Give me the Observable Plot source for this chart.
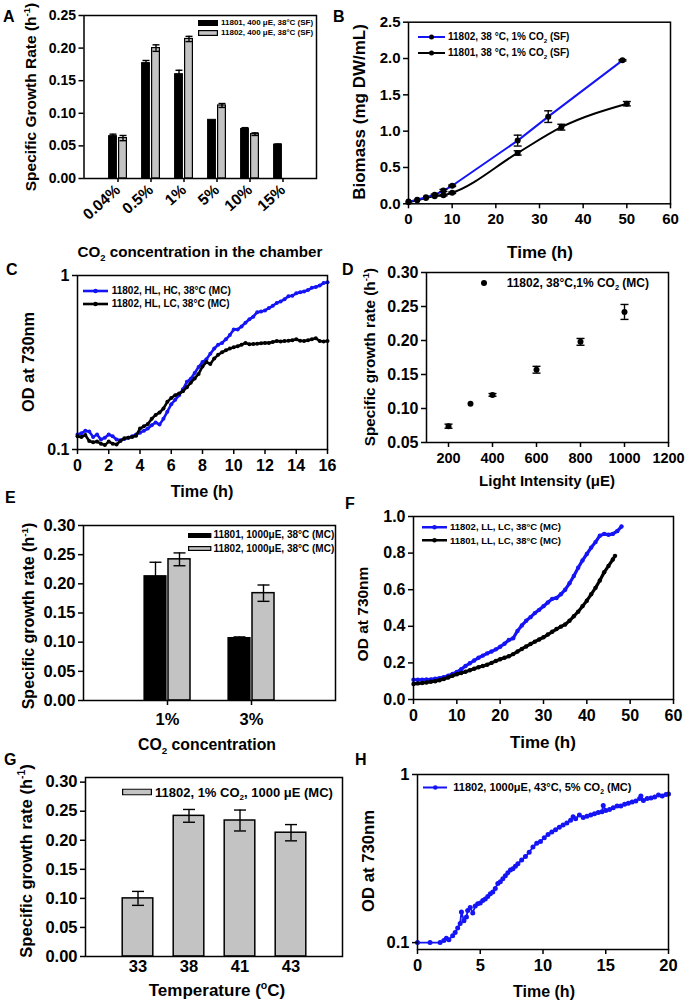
<!DOCTYPE html>
<html><head><meta charset="utf-8">
<script src="https://cdn.jsdelivr.net/npm/d3@7"></script>
<script src="https://cdn.jsdelivr.net/npm/@observablehq/plot@0.6"></script>
<style>
body{margin:0;background:#fff;}
#fig{position:relative;width:685px;height:1004px;overflow:hidden;font-family:'Liberation Sans',Arial,sans-serif;font-weight:bold;color:#000;background:#fff;}
.abs{position:absolute;white-space:nowrap;line-height:1;}
sup,sub{font-size:0.62em;line-height:0;}
</style></head><body><div id="fig"></div>
<script>
// ---------- Panel A ----------
const aCats = ["0.04%","0.5%","1%","5%","10%","15%"];
const a11801 = [0.065,0.177,0.160,0.090,0.076,0.052];
const a11801Err = [0.003,0.004,0.006,0,0.002,0.001];
const a11802 = [0.062,0.200,0.214,0.112,0.068,null];
const a11802Err = [0.004,0.005,0.004,0.003,0.002,null];
const aTicks = [0,0.05,0.10,0.15,0.20,0.25];

// ---------- Panel B ----------
const bT02 = [0,2,4,6,8,10,25,32,49];
const bV02 = [0.03,0.055,0.09,0.124,0.183,0.248,0.87,1.2,1.975];
const bE02 = [0,0,0,0.01,0.015,0.01,0.075,0.08,0.01];
const bT01 = [0,2,4,6,8,10,25,35,50];
const bV01 = [0.02,0.05,0.08,0.105,0.118,0.152,0.70,1.055,1.378];
const bE01 = [0,0,0,0,0.01,0.01,0.03,0.04,0.03];

// ---------- Panel C ----------
const cTime = [0,0.25,0.5,0.75,1,1.25,1.5,1.75,2,2.25,2.5,2.75,3,3.25,3.5,3.75,4,4.25,4.5,4.75,5,5.25,5.5,5.75,6,6.25,6.5,6.75,7,7.25,7.5,7.75,8,8.25,8.5,8.75,9,9.25,9.5,9.75,10,10.25,10.5,10.75,11,11.25,11.5,11.75,12,12.25,12.5,12.75,13,13.25,13.5,13.75,14,14.25,14.5,14.75,15,15.25,15.5,15.75,16];
const cHC = [.122,.124,.128,.127,.118,.122,.114,.117,.122,.119,.114,.113,.115,.117,.119,.122,.125,.128,.132,.138,.143,.139,.150,.165,.182,.193,.205,.222,.245,.255,.275,.298,.318,.33,.355,.38,.40,.41,.43,.455,.49,.49,.51,.535,.56,.58,.615,.62,.63,.65,.67,.695,.71,.73,.76,.765,.79,.80,.81,.825,.85,.86,.875,.905,.915];
const cLC = [.119,.118,.121,.112,.110,.111,.108,.106,.111,.108,.107,.112,.116,.117,.118,.120,.132,.136,.140,.150,.158,.163,.172,.188,.198,.205,.210,.216,.228,.242,.256,.272,.300,.318,.310,.333,.350,.362,.372,.380,.387,.392,.400,.410,.403,.404,.405,.408,.410,.410,.415,.420,.418,.420,.422,.425,.430,.422,.420,.425,.430,.436,.420,.418,.420];

// ---------- Panel D ----------
const dLight = [200,300,400,600,800,1000];
const dRate = [0.074,0.107,0.120,0.157,0.198,0.242];
const dErr = [0.003,0,0.002,0.005,0.005,0.011];

// ---------- Panel E ----------
const eCats = ["1%","3%"];
const e11801 = [0.213,0.107];
const e11801Err = [0.024,0.002];
const e11802 = [0.242,0.184];
const e11802Err = [0.011,0.014];

// ---------- Panel F ----------
const fTime02 = [0,1,2,3,4,5,6,7,8,9,10,11,12,13,14,15,16,17,18,19,20,21,22,23,24,25,26,27,28,29,30,31,32,33,34,35,36,37,38,39,40,41,42,43,44,45,46,47,48];
const fOD02 = [.108,.108,.108,.109,.110,.113,.117,.122,.130,.140,.150,.165,.183,.198,.213,.228,.240,.252,.262,.274,.288,.305,.325,.335,.375,.405,.430,.450,.472,.490,.510,.530,.550,.555,.575,.600,.635,.675,.720,.760,.795,.830,.860,.895,.905,.900,.905,.920,.945];
const fTime01 = [0,1,2,3,4,5,6,7,8,9,10,11,12,13,14,15,16,17,18,19,20,21,22,23,24,25,26,27,28,29,30,31,32,33,34,35,36,37,38,39,40,41,42,43,44,45,46,46.5];
const fOD01 = [.085,.088,.090,.093,.097,.100,.105,.112,.120,.130,.138,.145,.152,.160,.168,.176,.183,.190,.200,.210,.220,.228,.236,.248,.262,.276,.290,.303,.316,.328,.340,.355,.370,.385,.398,.410,.430,.455,.480,.510,.540,.575,.610,.650,.695,.730,.765,.785];

// ---------- Panel G ----------
const gTemp = ["33","38","41","43"];
const gRate = [0.100,0.242,0.234,0.213];
const gErr = [0.012,0.011,0.018,0.014];

// ---------- Panel H ----------
const hTime = [0,1,1.8,2.1,2.3,2.5,2.8,3.0,3.2,3.4,3.5,3.7,3.9,4.0,4.2,4.4,4.6,4.8,5.0,5.2,5.4,5.6,5.8,6.0,6.2,6.4,6.6,6.8,7.0,7.2,7.4,7.6,7.8,8.0,8.3,8.6,8.9,9.2,9.5,9.8,10.1,10.4,10.7,11.0,11.3,11.6,11.9,12.2,12.4,12.6,12.9,13.2,13.5,13.8,14.1,14.4,14.7,14.8,15.0,15.3,15.6,15.9,16.2,16.5,16.8,17.1,17.4,17.7,17.8,18.0,18.3,18.6,18.9,19.2,19.5,19.8,20.0];
const hOD = [.100,.100,.100,.103,.106,.104,.110,.115,.122,.130,.152,.135,.142,.155,.162,.150,.165,.170,.172,.178,.182,.188,.195,.200,.210,.225,.230,.240,.250,.260,.270,.275,.285,.295,.310,.325,.345,.370,.390,.400,.420,.440,.455,.470,.485,.500,.515,.535,.560,.545,.575,.555,.565,.575,.585,.595,.600,.655,.610,.620,.635,.650,.650,.665,.675,.685,.695,.720,.745,.700,.720,.725,.735,.755,.745,.760,.765];

// ---------- helpers ----------
const BLUE = "#1414f5";
const GRAY = "#c3c3c3";
const FONT = "'Liberation Sans', Arial, sans-serif";
const fig = document.getElementById("fig");
const capSym = {draw(ctx, size){ const r = Math.sqrt(size/Math.PI); ctx.moveTo(-r,0); ctx.lineTo(r,0); }};
const style = s => ({fontFamily: FONT, fontWeight: "bold", fontSize: s+"px", background: "transparent", overflow: "visible", color: "black"});
function place(el, left, top){ el.style.position="absolute"; el.style.left=left+"px"; el.style.top=top+"px"; fig.appendChild(el); }
function txt(html, cx, cy, size, rot){
  const d=document.createElement("div"); d.className="abs"; d.innerHTML=html;
  d.style.left=cx+"px"; d.style.top=cy+"px"; d.style.fontSize=size+"px";
  d.style.transform="translate(-50%,-50%)"+(rot?" rotate(-90deg)":"");
  fig.appendChild(d);
}
function letter(l, x, y){ const d=document.createElement("div"); d.className="abs"; d.textContent=l; d.style.left=x+"px"; d.style.top=y+"px"; d.style.fontSize="16px"; fig.appendChild(d); }
function swRect(w,h,fill){ return `<svg width="${w}" height="${h}" style="display:block"><rect x="0.6" y="0.6" width="${w-1.2}" height="${h-1.2}" fill="${fill}" stroke="black" stroke-width="1.2"/></svg>`; }
function swLine(w,color,dot,sw,r){ return `<svg width="${w}" height="8" style="display:block"><line x1="0" x2="${w}" y1="4" y2="4" stroke="${color}" stroke-width="${sw}"/><circle cx="${w/2}" cy="4" r="${r}" fill="${dot}"/></svg>`; }
function swDot(r){ return `<svg width="${2*r}" height="${2*r}" style="display:block"><circle cx="${r}" cy="${r}" r="${r}" fill="black"/></svg>`; }
function legend(x, cy, sw, html, size, gap){
  const d=document.createElement("div"); d.className="abs";
  d.style.left=x+"px"; d.style.top=cy+"px"; d.style.transform="translateY(-50%)";
  d.style.display="flex"; d.style.alignItems="center"; d.style.fontSize=size+"px";
  d.innerHTML = sw + `<span style="margin-left:${gap}px">${html}</span>`;
  fig.appendChild(d);
}
function errMarks(data, x, y, e, opt){
  const o = Object.assign({stroke:"black", strokeWidth:1.4}, opt.style||{});
  return [
    Plot.ruleX(data.filter(d=>d[e]>0), {x, y1: d=>d[y]-d[e], y2: d=>d[y]+d[e], dx: opt.dx||0, ...o}),
    Plot.dot(data.filter(d=>d[e]>0), {x, y: d=>d[y]+d[e], dx: opt.dx||0, symbol: capSym, r: opt.cap, ...o, fill:"none"}),
    Plot.dot(data.filter(d=>d[e]>0), {x, y: d=>d[y]-d[e], dx: opt.dx||0, symbol: capSym, r: opt.cap, ...o, fill:"none"})
  ];
}
const f2 = d3.format(".2f"), f1 = d3.format(".1f");

// ---------- A ----------
const aRows01 = aCats.map((c,i)=>({cat:c, v:a11801[i], e:a11801Err[i]}));
const aRows02 = aCats.map((c,i)=>({cat:c, v:a11802[i], e:a11802Err[i]})).filter(d=>d.v!=null);
place(Plot.plot({
  width:340, height:250, marginLeft:83.5, marginRight:24, marginTop:15, marginBottom:72,
  style: style(14),
  x:{type:"band", domain:aCats, paddingInner:0, paddingOuter:0.5},
  y:{domain:[0,0.25]},
  marks:[
    Plot.barY(aRows01, {x:"cat", y:"v", fill:"black", stroke:"black", strokeWidth:1, insetLeft:7.6, insetRight:17.6}),
    Plot.barY(aRows02, {x:"cat", y:"v", fill:GRAY, stroke:"black", strokeWidth:1.2, insetLeft:17.6, insetRight:7.6}),
    ...errMarks(aRows01, "cat", "v", "e", {dx:-5, cap:3.5}),
    ...errMarks(aRows02, "cat", "v", "e", {dx:5, cap:3.5}),
    Plot.axisY({ticks:aTicks, tickFormat:f2, tickSize:5, tickPadding:3, strokeWidth:1.5, label:null}),
    Plot.axisX({tickSize:4, tickRotate:-42, tickPadding:5, strokeWidth:1.5, fontSize:15.5, label:null}),
    Plot.frame({stroke:"black", strokeWidth:1.5})
  ]
}), 0, 0);

// ---------- B ----------
const bRows02 = bT02.map((t,i)=>({t, v:bV02[i], e:bE02[i]}));
const bRows01 = bT01.map((t,i)=>({t, v:bV01[i], e:bE01[i]}));
place(Plot.plot({
  width:345, height:250, marginLeft:68, marginRight:15, marginTop:21.7, marginBottom:46.7,
  style: style(15),
  x:{domain:[0,60]}, y:{domain:[0,2.5]},
  marks:[
    Plot.line(bRows01, {x:"t", y:"v", stroke:"black", strokeWidth:2, curve:"monotone-x"}),
    Plot.line(bRows02, {x:"t", y:"v", stroke:BLUE, strokeWidth:2}),
    ...errMarks(bRows02, "t", "v", "e", {cap:4}),
    ...errMarks(bRows01, "t", "v", "e", {cap:4}),
    Plot.dot(bRows01, {x:"t", y:"v", r:3, fill:"black"}),
    Plot.dot(bRows02, {x:"t", y:"v", r:3, fill:"black"}),
    Plot.axisY({ticks:[0,0.5,1,1.5,2,2.5], tickFormat:f1, tickSize:5, tickPadding:3, strokeWidth:1.5, label:null}),
    Plot.axisX({ticks:[0,10,20,30,40,50,60], tickSize:5, tickPadding:5, strokeWidth:1.5, label:null}),
    Plot.frame({stroke:"black", strokeWidth:1.5})
  ]
}), 340, 0);

// ---------- C ----------
const cRowsHC = cTime.map((t,i)=>({t, v:cHC[i]}));
const cRowsLC = cTime.map((t,i)=>({t, v:cLC[i]}));
place(Plot.plot({
  width:340, height:250, marginLeft:77, marginRight:13, marginTop:25, marginBottom:51,
  style: style(16),
  x:{domain:[0,16]}, y:{type:"log", domain:[0.1,1]},
  marks:[
    Plot.line(cRowsHC, {x:"t", y:"v", stroke:BLUE, strokeWidth:2.6}),
    Plot.dot(cRowsHC, {x:"t", y:"v", r:2, fill:BLUE}),
    Plot.line(cRowsLC, {x:"t", y:"v", stroke:"black", strokeWidth:2.6}),
    Plot.dot(cRowsLC, {x:"t", y:"v", r:2, fill:"black"}),
    Plot.axisY({ticks:[0.1,1], tickFormat:d3.format("~g"), tickSize:5, tickPadding:3, strokeWidth:1.5, label:null}),
    Plot.axisX({ticks:[0,2,4,6,8,10,12,14,16], tickSize:5, tickPadding:5, strokeWidth:1.5, label:null}),
    Plot.frame({stroke:"black", strokeWidth:1.5})
  ]
}), 0, 250);

// ---------- D ----------
const dRows = dLight.map((x,i)=>({x, v:dRate[i], e:dErr[i]}));
place(Plot.plot({
  width:345, height:250, marginLeft:86, marginRight:17, marginTop:22, marginBottom:58,
  style: style(15),
  x:{domain:[100,1200]}, y:{domain:[0.05,0.30]},
  marks:[
    ...errMarks(dRows, "x", "v", "e", {cap:4}),
    Plot.dot(dRows, {x:"x", y:"v", r:3, fill:"black"}),
    Plot.axisY({ticks:[0.05,0.10,0.15,0.20,0.25,0.30], tickFormat:f2, tickSize:5, tickPadding:3, strokeWidth:1.5, fontSize:16, label:null}),
    Plot.axisX({ticks:[200,400,600,800,1000,1200], tickFormat:d3.format("d"), tickSize:5, tickPadding:5, strokeWidth:1.5, fontSize:14.5, label:null}),
    Plot.frame({stroke:"black", strokeWidth:1.5})
  ]
}), 340, 250);

// ---------- E ----------
const eRows01 = eCats.map((c,i)=>({cat:c, v:e11801[i], e:e11801Err[i]}));
const eRows02 = eCats.map((c,i)=>({cat:c, v:e11802[i], e:e11802Err[i]}));
place(Plot.plot({
  width:340, height:250, marginLeft:83, marginRight:5, marginTop:25, marginBottom:50,
  style: style(16.5),
  x:{type:"band", domain:eCats, paddingInner:0, paddingOuter:0.5},
  y:{domain:[0,0.30]},
  marks:[
    Plot.barY(eRows01, {x:"cat", y:"v", fill:"black", stroke:"black", strokeWidth:1.2, insetLeft:19, insetRight:43}),
    Plot.barY(eRows02, {x:"cat", y:"v", fill:GRAY, stroke:"black", strokeWidth:1.5, insetLeft:43, insetRight:19}),
    ...errMarks(eRows01, "cat", "v", "e", {dx:-12, cap:6}),
    ...errMarks(eRows02, "cat", "v", "e", {dx:12, cap:6}),
    Plot.axisY({ticks:[0,0.05,0.10,0.15,0.20,0.25,0.30], tickFormat:f2, tickSize:5, tickPadding:3, strokeWidth:1.5, label:null}),
    Plot.axisX({tickSize:5, tickPadding:8, strokeWidth:1.5, label:null}),
    Plot.frame({stroke:"black", strokeWidth:1.5})
  ]
}), 0, 500);

// ---------- F ----------
const fRows02 = fTime02.map((t,i)=>({t, v:fOD02[i]}));
const fRows01 = fTime01.map((t,i)=>({t, v:fOD01[i]}));
place(Plot.plot({
  width:345, height:250, marginLeft:73, marginRight:12, marginTop:16, marginBottom:51,
  style: style(16),
  x:{domain:[0,60]}, y:{domain:[0,1]},
  marks:[
    Plot.line(fRows02, {x:"t", y:"v", stroke:BLUE, strokeWidth:3.2}),
    Plot.dot(fRows02, {x:"t", y:"v", r:2.2, fill:BLUE}),
    Plot.line(fRows01, {x:"t", y:"v", stroke:"black", strokeWidth:3.2}),
    Plot.dot(fRows01, {x:"t", y:"v", r:2.2, fill:"black"}),
    Plot.axisY({ticks:[0,0.2,0.4,0.6,0.8,1.0], tickFormat:f1, tickSize:5, tickPadding:3, strokeWidth:1.5, label:null}),
    Plot.axisX({ticks:[0,10,20,30,40,50,60], tickSize:5, tickPadding:5, strokeWidth:1.5, label:null}),
    Plot.frame({stroke:"black", strokeWidth:1.5})
  ]
}), 340, 500);

// ---------- G ----------
const gRows = gTemp.map((c,i)=>({cat:c, v:gRate[i], e:gErr[i]}));
place(Plot.plot({
  width:345, height:254, marginLeft:85, marginRight:3, marginTop:27, marginBottom:48,
  style: style(16.5),
  x:{type:"band", domain:gTemp, paddingInner:0, paddingOuter:0.5},
  y:{domain:[0,0.308]},
  marks:[
    Plot.barY(gRows, {x:"cat", y:"v", fill:GRAY, stroke:"black", strokeWidth:1.5, insetLeft:10.2, insetRight:10.2}),
    ...errMarks(gRows, "cat", "v", "e", {cap:6}),
    Plot.axisY({ticks:[0,0.05,0.10,0.15,0.20,0.25,0.30], tickFormat:f2, tickSize:5, tickPadding:3, strokeWidth:1.5, label:null}),
    Plot.axisX({tickSize:0, tickPadding:4, label:null}),
    Plot.frame({stroke:"black", strokeWidth:1.5})
  ]
}), 0, 750);

// ---------- H ----------
const hRows = hTime.map((t,i)=>({t, v:hOD[i]}));
place(Plot.plot({
  width:345, height:254, marginLeft:77, marginRight:17, marginTop:24, marginBottom:55,
  style: style(16.5),
  x:{domain:[0,20]}, y:{type:"log", domain:[0.091,1]},
  marks:[
    Plot.line(hRows, {x:"t", y:"v", stroke:BLUE, strokeWidth:1.8}),
    Plot.dot(hRows, {x:"t", y:"v", r:2.5, fill:BLUE}),
    Plot.axisY({ticks:[0.1,1], tickFormat:d3.format("~g"), tickSize:5, tickPadding:3, strokeWidth:1.5, label:null}),
    Plot.axisX({ticks:[0,5,10,15,20], tickSize:5, tickPadding:5, strokeWidth:1.5, label:null}),
    Plot.frame({stroke:"black", strokeWidth:1.5})
  ]
}), 340, 750);

// ---------- axis titles ----------
txt("Specific Growth Rate (h<sup>-1</sup>)", 31, 97, 15.5, true);
txt("CO<sub>2</sub> concentration in the chamber", 200, 252, 15.2);
txt("Biomass (mg DW/mL)", 359, 112, 17, true);
txt("Time (h)", 540, 252, 17);
txt("OD at 730nm", 28, 362, 16.4, true);
txt("Time (h)", 202, 491, 16.2);
txt("Specific growth rate (h<sup>-1</sup>)", 370, 357, 15.3, true);
txt("Light Intensity (&mu;E)", 547, 480, 15);
txt("Specific growth rate (h<sup>-1</sup>)", 29, 616, 16, true);
txt("CO<sub>2</sub> concentration", 207, 745, 15.8);
txt("OD at 730nm", 363, 614, 15.5, true);
txt("Time (h)", 543, 742, 17);
txt("Specific growth rate (h<sup>-1</sup>)", 27, 861, 16.6, true);
txt("Temperature (<sup>o</sup>C)", 217, 990, 17);
txt("OD at 730nm", 369, 861, 16.7, true);
txt("Time (h)", 544, 992, 16);

// ---------- panel letters ----------
letter("A", 3, 9); letter("B", 333, 9); letter("C", 6, 262); letter("D", 342, 262);
letter("E", 5, 490); letter("F", 345, 496); letter("G", 4, 752); letter("H", 355, 752);

// ---------- legends ----------
legend(198.3, 23, swRect(20,6,"black"), "11801, 400 &mu;E, 38°C (SF)", 8, 2.7);
legend(198.3, 32.5, swRect(20,6,GRAY), "11802, 400 &mu;E, 38°C (SF)", 8, 2.7);
legend(418, 37.3, swLine(27,BLUE,"black",2,2.5), "11802, 38 °C, 1% CO<sub>2</sub> (SF)", 10, 3);
legend(418, 52.7, swLine(27,"black","black",2,2.5), "11801, 38 °C, 1% CO<sub>2</sub> (SF)", 10, 3);
legend(83, 290.7, swLine(25,BLUE,BLUE,2.6,2.2), "11802, HL, HC, 38°C (MC)", 10, 3.7);
legend(83, 304.3, swLine(25,"black","black",2.6,2.2), "11802, HL, LC, 38°C (MC)", 10, 3.7);
legend(481, 283, swDot(3), "11802, 38°C,1% CO<sub>2</sub> (MC)", 12, 19.7);
legend(188.3, 535.3, swRect(23.4,5,"black"), "11801, 1000&mu;E, 38°C (MC)", 10, 1.8);
legend(188.3, 548.7, swRect(23.4,5,GRAY), "11802, 1000&mu;E, 38°C (MC)", 10, 1.8);
legend(421.7, 527.3, swLine(25,BLUE,BLUE,2.6,2.3), "11802, LL, LC, 38°C (MC)", 9.5, 3.3);
legend(421.7, 540.7, swLine(25,"black","black",2.6,2.3), "11801, LL, LC, 38°C (MC)", 9.5, 3.3);
legend(121.7, 791.5, swRect(30,7,GRAY), "11802, 1% CO<sub>2</sub>, 1000 &mu;E (MC)", 13, 3.3);
legend(422.7, 787.3, swLine(24.6,BLUE,BLUE,2,2.3), "11802, 1000&mu;E, 43°C, 5% CO<sub>2</sub> (MC)", 11, 6);
</script></body></html>
